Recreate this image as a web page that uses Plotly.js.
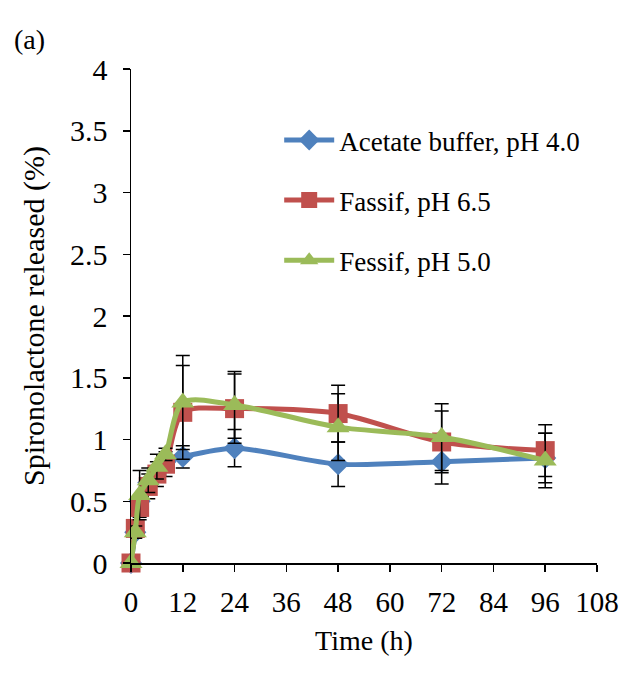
<!DOCTYPE html>
<html>
<head>
<meta charset="utf-8">
<script src="https://cdn.plot.ly/plotly-3.0.1.min.js"></script>
<style>html,body{margin:0;padding:0;background:#fff;}</style>
</head>
<body>
<div id="chart" style="width:631px;height:679px;"></div>
<script>
const time = [0, 1, 2, 4, 6, 8, 12, 24, 48, 72, 96];
const acetate = [0, 0.25, 0.5, 0.65, 0.75, 0.82, 0.86, 0.93, 0.80, 0.82, 0.85];
const acetateErr = [0, 0, 0, 0, 0, 0, 0.09, 0.15, 0.18, 0.18, 0.20];
const fassif = [0, 0.28, 0.45, 0.62, 0.72, 0.80, 1.22, 1.25, 1.21, 0.98, 0.91];
const fassifErr = [0, 0.05, 0.08, 0.1, 0.1, 0.1, 0.38, 0.28, 0.23, 0.25, 0.21];
const fessif = [0, 0.25, 0.55, 0.67, 0.78, 0.88, 1.30, 1.28, 1.10, 1.02, 0.83];
const fessifErr = [0, 0.05, 0.2, 0.1, 0.1, 0.05, 0.38, 0.27, 0.27, 0.27, 0.22];
const names = ['Acetate buffer, pH 4.0', 'Fassif, pH 6.5', 'Fessif, pH 5.0'];
const xTicks = [0, 12, 24, 36, 48, 60, 72, 84, 96, 108];

const colors = ['#4F81BD', '#C0504D', '#9BBB59'];
const symbols = ['diamond', 'square', 'triangle-up'];
const sizes = [17, 19, 20];
const ys = [acetate, fassif, fessif];
const errs = [acetateErr, fassifErr, fessifErr];

const traces = ys.map((y, i) => ({
  x: time, y: y, name: names[i], type: 'scatter', mode: 'lines+markers',
  legendgroup: 'g' + i,
  line: {color: colors[i], width: 5, shape: 'spline', smoothing: 0.8},
  marker: {color: colors[i], symbol: symbols[i], size: sizes[i]},
  error_y: {type: 'data', array: errs[i], visible: true, color: '#000', thickness: 1.5, width: 7},
  cliponaxis: false
}));

const font = {family: '"Liberation Serif", "Times New Roman", serif', color: '#000'};
const f = s => Object.assign({size: s}, font);
const layout = {
  width: 631, height: 679,
  margin: {l: 131, r: 34, t: 69, b: 116},
  paper_bgcolor: '#fff', plot_bgcolor: '#fff',
  font: f(28),
  showlegend: true,
  legend: {x: 0.318, y: 0.905, xanchor: 'left', yanchor: 'top', font: f(27),
           bgcolor: 'rgba(0,0,0,0)', tracegroupgap: 22, itemwidth: 50},
  xaxis: {range: [0, 108], tickvals: xTicks, ticktext: xTicks.map(String), showline: true, linecolor: '#000', linewidth: 1.5,
          ticks: 'outside', ticklen: 7, tickwidth: 1.5, tickcolor: '#000', showgrid: false, zeroline: false,
          tickfont: f(29), ticklabelstandoff: 6,
          title: {text: 'Time (h)', font: f(28), standoff: 13}},
  yaxis: {range: [0, 4], dtick: 0.5, showline: true, linecolor: '#000', linewidth: 1.5,
          ticks: 'outside', ticklen: 7, tickwidth: 1.5, tickcolor: '#000', showgrid: false, zeroline: false,
          tickfont: f(30), ticklabelstandoff: 9,
          title: {text: 'Spironolactone released (%)', font: f(30), standoff: 16}},
  annotations: [{text: '(a)', xref: 'paper', yref: 'paper', x: -0.255, y: 1.06, xanchor: 'left', yanchor: 'middle',
                 showarrow: false, font: f(28)}]
};

Plotly.newPlot('chart', traces, layout, {displayModeBar: false, staticPlot: true});
</script>
</body>
</html>
